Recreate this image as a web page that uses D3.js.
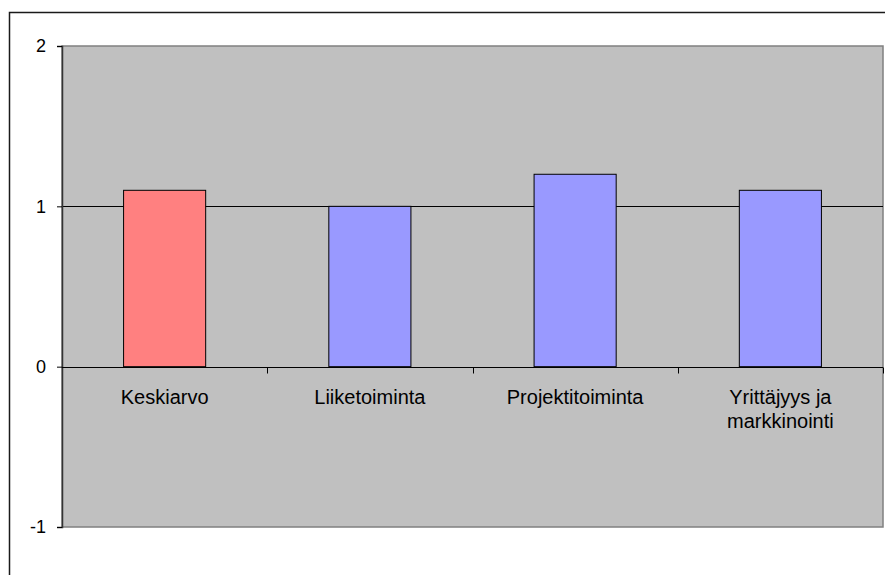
<!DOCTYPE html>
<html><head><meta charset="utf-8">
<script src="https://cdn.jsdelivr.net/npm/d3@7"></script>
<style>body{margin:0;background:#fff}svg{display:block}</style>
</head><body>
<script>
const categories = ["Keskiarvo", "Liiketoiminta", "Projektitoiminta", "Yrittäjyys ja markkinointi"];
const values = [1.1, 1.0, 1.2, 1.1];
const barColors = ["#FF8080", "#9999FF", "#9999FF", "#9999FF"];
const yTicks = [-1, 0, 1, 2];
const labelLines = [["Keskiarvo"], ["Liiketoiminta"], ["Projektitoiminta"], ["Yrittäjyys ja", "markkinointi"]];

const W = 885, H = 575;
const pLeft = 62, pRight = 883, pTop = 46, pBottom = 527;
const svg = d3.select("body").append("svg").attr("width", W).attr("height", H);

// outer chart border
svg.append("rect").attr("x", 9.5).attr("y", 12.5).attr("width", 1000).attr("height", 1000)
  .attr("fill", "none").attr("stroke", "#1a1a1a").attr("stroke-width", 1.5);

const x = d3.scaleBand().domain(categories).range([pLeft, pRight]).paddingInner(0.6).paddingOuter(0.3);
const xb = d3.scaleBand().domain(categories).range([pLeft, pRight]);
const y = d3.scaleLinear().domain([-1, 2]).range([pBottom, pTop]);

// plot area
svg.append("rect").attr("x", pLeft).attr("y", pTop).attr("width", pRight - pLeft).attr("height", pBottom - pTop)
  .attr("fill", "#C0C0C0").attr("stroke", "#808080").attr("stroke-width", 1.5);

// gridlines
svg.append("g").selectAll("line").data(yTicks.filter(t => t === 1)).join("line")
  .attr("x1", pLeft).attr("x2", pRight).attr("y1", d => Math.round(y(d)) + 0.5).attr("y2", d => Math.round(y(d)) + 0.5)
  .attr("stroke", "#000").attr("stroke-width", 1);

// bars
svg.append("g").selectAll("rect").data(values).join("rect")
  .attr("x", (d, i) => x(categories[i]))
  .attr("y", d => y(d))
  .attr("width", x.bandwidth())
  .attr("height", d => y(0) - y(d))
  .attr("fill", (d, i) => barColors[i])
  .attr("stroke", "#000").attr("stroke-width", 1);

// y axis
const yAxis = svg.append("g").attr("transform", `translate(${pLeft},0)`)
  .call(d3.axisLeft(y).tickValues(yTicks).tickSize(5).tickPadding(11).tickFormat(d => String(d)));
yAxis.select(".domain").attr("stroke", "#333").attr("stroke-width", 1.5);
yAxis.selectAll(".tick line").attr("stroke", "#000");
yAxis.selectAll("text").attr("font-family", "Liberation Sans, Arial, sans-serif").attr("font-size", 18).attr("fill", "#000");

// zero line (x axis)
const zy = Math.round(y(0)) + 0.5;
svg.append("line").attr("x1", pLeft).attr("x2", pRight).attr("y1", zy).attr("y2", zy).attr("stroke", "#000").attr("stroke-width", 1.2);
const bounds = categories.map(c => xb(c)).slice(1).concat([pRight]);
svg.append("g").selectAll("line").data(bounds).join("line")
  .attr("x1", d => Math.round(d) + 0.5).attr("x2", d => Math.round(d) + 0.5)
  .attr("y1", zy).attr("y2", zy + 6).attr("stroke", "#000");

// category labels
const lab = svg.append("g").attr("font-family", "Liberation Sans, Arial, sans-serif").attr("font-size", 20).attr("fill", "#000").attr("text-anchor", "middle");
labelLines.forEach((lines, i) => {
  const cx = xb(categories[i]) + xb.bandwidth() / 2;
  const t = lab.append("text").attr("x", cx).attr("y", y(0) + 37);
  lines.forEach((ln, j) => t.append("tspan").attr("x", cx).attr("dy", j === 0 ? 0 : 24).text(ln));
});
</script>
</body></html>
